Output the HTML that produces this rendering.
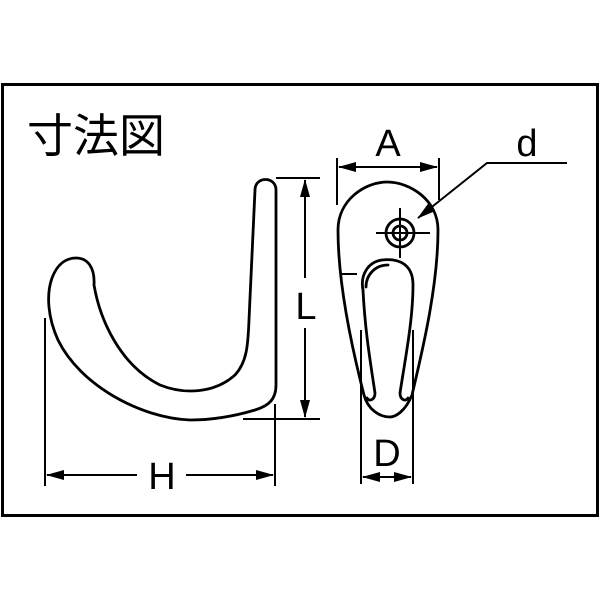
<!DOCTYPE html>
<html><head><style>html,body{margin:0;padding:0;background:#fff}svg{display:block}</style></head>
<body>
<svg width="600" height="600" viewBox="0 0 600 600" xmlns="http://www.w3.org/2000/svg">
<defs>
<marker id="ar" markerWidth="18" markerHeight="10" refX="17" refY="5" orient="auto" markerUnits="userSpaceOnUse">
<path d="M0,0 L18,5 L0,10 Z" fill="#000"/></marker>
</defs>
<rect x="2.5" y="84.5" width="595" height="431" fill="#fff" stroke="#000" stroke-width="3"/>
<text x="27" y="152" font-family="'Liberation Sans','Noto Sans CJK JP',sans-serif" font-size="46" fill="#000">寸法図</text>
<g fill="none" stroke="#000" stroke-width="2.8" stroke-linejoin="round" stroke-linecap="round">
<!-- hook -->
<path d="M255,190 C255,176 276,176 276,190 L276,385 C276,400 268,406 255,410 C235,416 215,420 190,420 C140,418 80,385 58,340 C48,318 46,295 52,278 C58,262 68,258 76,258 C88,258 95,268 94,285 C100,320 120,365 160,385 C185,395 215,393 235,375 C247,362 248,345 249,320 Z"/>
<!-- teardrop -->
<path d="M387,182 C410,182 438,200 438,230 C438,290 420,360 412,395 C405,412 395,417 390,417 C380,417 368,410 364,395 C355,360 338,290 338,230 C338,200 365,182 387,182 Z"/>
<circle cx="400" cy="233" r="14"/>
<circle cx="400" cy="233" r="7"/>
<!-- slot -->
<path d="M363,290 C360,275 368,262 382,260 C400,258 413,265 413,285 C413,320 405,360 400,393 C400,400 406,402 408,398"/>
<path d="M366,287 C366,275 375,265 388,265 M363,290 C365,330 370,360 375,393 C375,400 369,402 367,398"/>
</g>
<g stroke="#000" stroke-width="2" fill="none">
<line x1="376" y1="233" x2="430" y2="233"/>
<line x1="400" y1="208" x2="400" y2="258"/>
<line x1="341" y1="274" x2="357" y2="274"/>
<!-- L -->
<line x1="276" y1="178" x2="320" y2="178"/>
<line x1="243" y1="419" x2="320" y2="419"/>
<line x1="305" y1="278" x2="305" y2="180" marker-end="url(#ar)"/>
<line x1="305" y1="328" x2="305" y2="417" marker-end="url(#ar)"/>
<!-- H -->
<line x1="45" y1="318" x2="45" y2="486"/>
<line x1="275" y1="404" x2="275" y2="486"/>
<line x1="137" y1="475" x2="47" y2="475" marker-end="url(#ar)"/>
<line x1="186" y1="475" x2="273" y2="475" marker-end="url(#ar)"/>
<!-- A -->
<line x1="337" y1="158" x2="337" y2="205"/>
<line x1="439" y1="158" x2="439" y2="200"/>
<line x1="388" y1="167" x2="339" y2="167" marker-end="url(#ar)"/>
<line x1="388" y1="167" x2="437" y2="167" marker-end="url(#ar)"/>
<!-- d -->
<polyline points="567,163 487,163 418,218" marker-end="url(#ar)"/>
<!-- D -->
<line x1="361" y1="330" x2="361" y2="484"/>
<line x1="413" y1="330" x2="413" y2="484"/>
<line x1="387" y1="477" x2="363" y2="477" marker-end="url(#ar)"/>
<line x1="387" y1="477" x2="411" y2="477" marker-end="url(#ar)"/>
</g>
<g font-family="'Liberation Sans',sans-serif" font-size="38" fill="#000" text-anchor="middle">
<text x="306" y="319">L</text>
<text x="162" y="489">H</text>
<text x="388" y="156">A</text>
<text x="527" y="156">d</text>
<text x="387" y="466">D</text>
</g>
</svg>
</body></html>
